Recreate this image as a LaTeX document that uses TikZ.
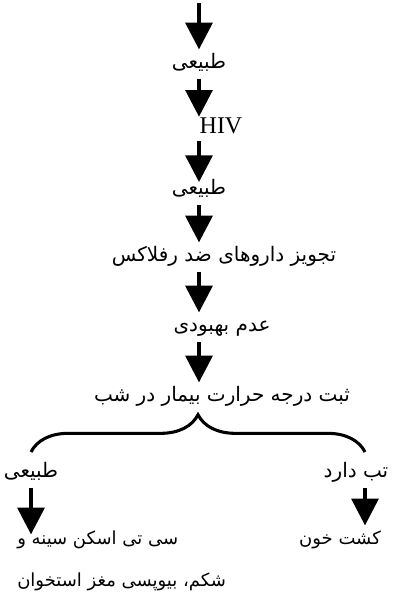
\documentclass[tikz,border=0pt]{standalone}
\usepackage{fontspec}
\setmainfont{Liberation Serif}
\newfontfamily\farsi[Script=Arabic]{DejaVu Sans}
\TeXXeTstate=1
\usetikzlibrary{arrows.meta,decorations.pathreplacing,positioning}

\newcommand{\fa}[1]{{\farsi\beginR #1\endR}}

\begin{document}
\begin{tikzpicture}[x=0.75pt, y=-0.75pt, >={Triangle[width=20pt,length=20pt]},
    flow/.style={->, line width=3pt},
    every node/.style={inner sep=0pt, text height=14pt, text depth=7.5pt, font=\fontsize{15}{18}\selectfont},
    small/.style={font=\fontsize{13.5}{16}\selectfont},
    brace/.style={decorate, decoration={brace, amplitude=28pt}, line width=2.3pt}]
        \useasboundingbox (0,0) rectangle (395,603);
        \coordinate (top) at (199,3);
        \node (n1)   at (199,64)  {\fa{طبیعی}};
        \node (hiv)  at (221,129) [font=\fontsize{18}{20}\selectfont, text height=12pt, text depth=6pt] {HIV};
        \node (n3)   at (199,190) {\fa{طبیعی}};
        \node (n4)   at (224,257) {\fa{تجویز داروهای ضد رفلاکس}};
        \node (n5)   at (222,327) {\fa{عدم بهبودی}};
        \node (n6)   at (222,397) {\fa{ثبت درجه حرارت بیمار در شب}};
        \coordinate (bl) at (31,452);
        \coordinate (br) at (365,452);
        \node (left)  at (31,473)  {\fa{طبیعی}};
        \node (right) at (356,473) {\fa{تب دارد}};
        \node (scan)  at (17,544) [small, anchor=base west, text height=7pt] {\fa{سی تی اسکن سینه و}};
        \node (scanb) at (17,586) [small, anchor=base west] {\fa{شکم، بیوپسی مغز استخوان}};
        \node (blood) at (340,540) [small] {\fa{کشت خون}};

        \draw[flow] (top) -- (top |- n1.north);
        \draw[flow] (n1.south) -- (n1.south |- hiv.north);
        \draw[flow, shorten >=-5pt] (hiv.south -| n3) -- (n3.north);
        \draw[flow] (n3.south) -- (n3.south |- n4.north);
        \draw[flow] (n4.south -| n3) -- (n3 |- n5.north);
        \draw[flow] (n5.south -| n3) -- (n3 |- n6.north);
        \draw[brace] (bl) -- (br);
        \draw[flow] (bl |- left.south) -- (bl |- scan.north);
        \draw[flow] (br |- right.south) -- (br |- blood.north);
\end{tikzpicture}
\end{document}
